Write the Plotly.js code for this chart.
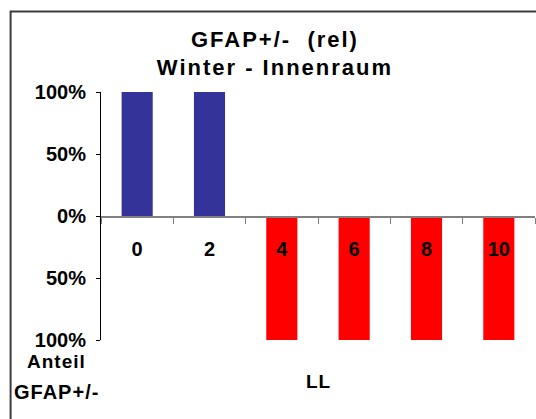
<!DOCTYPE html>
<html>
<head>
<meta charset="utf-8">
<script src="https://cdn.plot.ly/plotly-3.0.1.min.js"></script>
<style>
  html, body { margin: 0; padding: 0; background: #fff; }
  #chart { width: 536px; height: 419px; }
  .gtitle { letter-spacing: 2px; }
  .annotation-text { letter-spacing: 1px; }
</style>
</head>
<body>
<div id="chart"></div>
<script>
// Categories (LL) and relative shares
const categories = ['0', '2', '4', '6', '8', '10'];
const plusShare  = [1, 1, null, null, null, null];      // upward (blue)
const minusShare = [null, null, -1, -1, -1, -1];        // downward (red)
const yTickVals  = [-1, -0.5, 0, 0.5, 1];
const yTickText  = ['100%', '50%', '0%', '50%', '100%'];

const FONT = 'Liberation Sans, Arial, Helvetica, sans-serif';

const traces = [
  { type: 'bar', x: categories, y: plusShare, name: 'GFAP+',
    marker: { color: '#333399', line: { width: 0 } } },
  { type: 'bar', x: categories, y: minusShare, name: 'GFAP-',
    marker: { color: '#FF0000', line: { width: 0 } } }
];

const layout = {
  width: 536, height: 419,
  margin: { l: 101, r: 1, t: 92, b: 79, pad: 0 },
  paper_bgcolor: '#ffffff', plot_bgcolor: '#ffffff',
  showlegend: false,
  barmode: 'relative',
  bargap: 0.57,
  font: { family: FONT, size: 20, color: '#000000', weight: 'bold' },
  title: {
    text: 'GFAP+/-\u00a0 (rel)<br>Winter - Innenraum',
    font: { family: FONT, size: 22, color: '#000000', weight: 'bold' },
    xref: 'container', x: 0.513, xanchor: 'center',
    yref: 'container', y: 0.889, yanchor: 'top'
  },
  xaxis: {
    type: 'category',
    anchor: 'free', position: 0.5,
    showline: true, linecolor: '#808080', linewidth: 1.5,
    ticks: 'outside', tickson: 'boundaries', ticklen: 6, tickcolor: '#808080', tickwidth: 1,
    ticklabelstandoff: 14,
    tickfont: { family: FONT, size: 20, color: '#000000', weight: 'bold' },
    showgrid: false, zeroline: false, fixedrange: true
  },
  yaxis: {
    range: [-1, 1],
    tickmode: 'array', tickvals: yTickVals, ticktext: yTickText,
    showline: true, linecolor: '#000000', linewidth: 1,
    ticks: 'outside', ticklen: 4, tickcolor: '#000000', tickwidth: 1,
    ticklabelstandoff: 6,
    tickfont: { family: FONT, size: 20, color: '#000000', weight: 'bold' },
    showgrid: false, zeroline: false, fixedrange: true
  },
  annotations: [
    { text: 'LL', xref: 'paper', yref: 'paper', x: 0.502, y: -0.167,
      xanchor: 'center', yanchor: 'middle', showarrow: false,
      font: { family: FONT, size: 19, color: '#000000', weight: 'bold' } },
    { text: 'Anteil', xref: 'paper', yref: 'paper', x: -0.102, y: -0.0887,
      xanchor: 'center', yanchor: 'middle', showarrow: false,
      font: { family: FONT, size: 19, color: '#000000', weight: 'bold' } },
    { text: 'GFAP+/-', xref: 'paper', yref: 'paper', x: -0.102, y: -0.2097,
      xanchor: 'center', yanchor: 'middle', showarrow: false,
      font: { family: FONT, size: 20, color: '#000000', weight: 'bold' } }
  ],
  shapes: [
    { type: 'rect', xref: 'paper', yref: 'paper',
      x0: -0.2083, x1: 1.2, y0: -0.4, y1: 1.325,
      line: { color: '#3c3c3c', width: 2 }, fillcolor: 'rgba(0,0,0,0)', layer: 'below' }
  ]
};

Plotly.newPlot('chart', traces, layout, { staticPlot: true, displayModeBar: false });
</script>
</body>
</html>
